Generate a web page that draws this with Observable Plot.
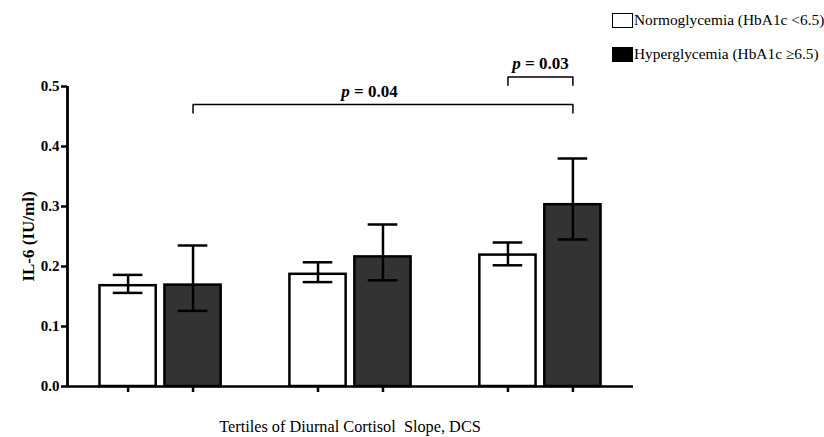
<!DOCTYPE html>
<html>
<head>
<meta charset="utf-8">
<script src="https://cdn.jsdelivr.net/npm/d3@7"></script>
<script src="https://cdn.jsdelivr.net/npm/@observablehq/plot@0.6"></script>
<style>
  body { margin: 0; background: #fff; }
  #wrap { position: relative; width: 824px; height: 437px; font-family: "Liberation Serif", "Times New Roman", serif; color: #000; }
  .leg { position: absolute; left: 612px; display: flex; align-items: center; font-size: 15.4px; white-space: nowrap; }
  .sw { width: 19px; height: 13px; border: 1.5px solid #000; margin-right: 1px; box-sizing: content-box; }
  #xlabel { position: absolute; left: 0; width: 700px; top: 417px; text-align: center; font-size: 16.3px; white-space: pre; }
</style>
</head>
<body>
<div id="wrap">
  <div id="chart"></div>
  <div class="leg" style="top:11px"><div class="sw" style="background:#fff"></div><span id="leg0"></span></div>
  <div class="leg" style="top:45px"><div class="sw" style="background:#000"></div><span id="leg1"></span></div>
  <div id="xlabel"></div>
</div>
<script>
// ---- data ----
const tertiles = [1, 2, 3];
const groups = ["Normoglycemia (HbA1c <6.5)", "Hyperglycemia (HbA1c \u22656.5)"];
const normoMean = [0.168, 0.187, 0.219];
const normoLow  = [0.156, 0.174, 0.202];
const normoHigh = [0.186, 0.207, 0.240];
const hyperMean = [0.169, 0.216, 0.303];
const hyperLow  = [0.126, 0.177, 0.245];
const hyperHigh = [0.235, 0.270, 0.380];
const yTicks = [0, 0.1, 0.2, 0.3, 0.4, 0.5];
const comparisons = [
  { t1: 1, g1: 1, t2: 3, g2: 1, level: 0.470, labelAt: 2.10, label: "p = 0.04" },
  { t1: 3, g1: 0, t2: 3, g2: 1, level: 0.516, labelAt: 3.00, label: "p = 0.03" }
];
const xTitle = "Tertiles of Diurnal Cortisol  Slope, DCS";
const yTitle = "IL-6 (IU/ml)";

// ---- layout helpers (in data units of the tertile axis) ----
const groupOffset = [-0.171, 0.171];
const barHalf = 0.148;
const capHalf = 0.078;
const drop = 0.014;
const fills = ["#ffffff", "#333333"];
const pos = (t, g) => t + groupOffset[g];

const bars = [];
tertiles.forEach((t, i) => {
  bars.push({ t, g: 0, mean: normoMean[i], lo: normoLow[i], hi: normoHigh[i] });
  bars.push({ t, g: 1, mean: hyperMean[i], lo: hyperLow[i], hi: hyperHigh[i] });
});
const caps = bars.flatMap(d => [{ ...d, v: d.lo }, { ...d, v: d.hi }]);
const brackets = comparisons.flatMap((c, k) => [
  { k, x: pos(c.t1, c.g1), y: c.level - drop },
  { k, x: pos(c.t1, c.g1), y: c.level },
  { k, x: pos(c.t2, c.g2), y: c.level },
  { k, x: pos(c.t2, c.g2), y: c.level - drop }
]);
const xDomain = [0.51, 3.49];

const chart = Plot.plot({
  width: 824,
  height: 437,
  marginLeft: 67,
  marginRight: 191,
  marginTop: 86,
  marginBottom: 51,
  style: { fontFamily: "'Liberation Serif', 'Times New Roman', serif", background: "#fff", overflow: "visible" },
  x: { type: "linear", domain: xDomain },
  y: { domain: [0, 0.5] },
  marks: [
    Plot.rectY(bars, {
      x1: d => pos(d.t, d.g) - barHalf,
      x2: d => pos(d.t, d.g) + barHalf,
      y1: 0,
      y2: "mean",
      fill: d => fills[d.g],
      stroke: "#000",
      strokeWidth: 2.5
    }),
    Plot.ruleX(bars, { x: d => pos(d.t, d.g), y1: "lo", y2: "hi", stroke: "#000", strokeWidth: 2.5 }),
    Plot.ruleY(caps, {
      y: "v",
      x1: d => pos(d.t, d.g) - capHalf,
      x2: d => pos(d.t, d.g) + capHalf,
      stroke: "#000",
      strokeWidth: 2.5
    }),
    Plot.ruleY([0], { stroke: "#000", strokeWidth: 2.5 }),
    Plot.ruleX([xDomain[0]], { y1: 0, y2: 0.5, stroke: "#000", strokeWidth: 2.8 }),
    Plot.axisY({
      ticks: yTicks,
      tickFormat: d3.format(".1f"),
      tickSize: 6,
      tickPadding: 2,
      strokeWidth: 2.5,
      fontWeight: "bold",
      fontSize: 15,
      label: yTitle,
      labelAnchor: "center",
      labelArrow: "none",
      labelOffset: 46
    }),
    Plot.axisX({
      ticks: bars.map(d => pos(d.t, d.g)),
      tickFormat: () => "",
      tickSize: 6,
      strokeWidth: 2.5,
      label: null
    }),
    Plot.line(brackets, { x: "x", y: "y", z: "k", stroke: "#000", strokeWidth: 1.5 }),
    Plot.text(comparisons, {
      x: "labelAt",
      y: c => c.level + 0.013,
      text: "label",
      lineAnchor: "bottom",
      fontWeight: "bold",
      fontSize: 17,
      className: "pval"
    })
  ]
});
document.getElementById("chart").appendChild(chart);

// italic "p" inside the p-value labels
chart.querySelectorAll(".pval text").forEach(el => {
  const s = el.textContent;
  el.textContent = "";
  const ns = "http://www.w3.org/2000/svg";
  const tp = document.createElementNS(ns, "tspan");
  tp.setAttribute("font-style", "italic");
  tp.textContent = s.slice(0, 1);
  el.appendChild(tp);
  el.appendChild(document.createTextNode(s.slice(1)));
});
// larger y title
chart.querySelectorAll("[aria-label='y-axis label'] text").forEach(el => el.setAttribute("font-size", 17));

document.getElementById("leg0").textContent = groups[0];
document.getElementById("leg1").textContent = groups[1];
document.getElementById("xlabel").textContent = xTitle;
</script>
</body>
</html>
